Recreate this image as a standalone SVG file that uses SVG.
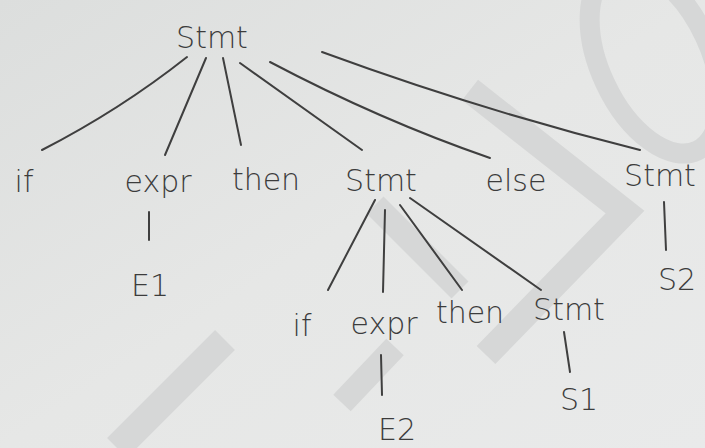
<svg xmlns="http://www.w3.org/2000/svg" width="705" height="448" viewBox="0 0 705 448">
<defs>
<linearGradient id="bg" x1="0" y1="0" x2="1" y2="1">
<stop offset="0" stop-color="#dcdedd"/>
<stop offset="0.5" stop-color="#e6e7e6"/>
<stop offset="1" stop-color="#e9eaea"/>
</linearGradient>
<style>
.t{font-family:"DejaVu Sans","Liberation Sans",sans-serif;font-size:30px;font-weight:300;fill:#3c3c3c;text-anchor:middle}
.e{fill:none;stroke:#3f3f3f;stroke-width:2;stroke-linecap:round}
.w{fill:none;stroke:#d6d7d7;stroke-linecap:butt}
</style>
</defs>
<rect width="705" height="448" fill="url(#bg)"/>
<g id="watermark">
<ellipse class="w" cx="655" cy="60" rx="55" ry="100" stroke-width="20" transform="rotate(-25 655 60)"/>
<path class="w" d="M470 90 L625 212 L486 355" stroke-width="26" stroke-linejoin="miter"/>
<path class="w" d="M375 205 L460 290" stroke-width="24"/>
<path class="w" d="M395 347 L342 403" stroke-width="24"/>
<path class="w" d="M117 448 L225 340" stroke-width="28"/>
</g>
<g id="connectors">
<path class="e" d="M187 57 Q120 110 42 150"/>
<path class="e" d="M206 58 L165 155"/>
<path class="e" d="M223 58 L241 145"/>
<path class="e" d="M240 63 L362 150"/>
<path class="e" d="M270 62 Q380 120 490 158"/>
<path class="e" d="M322 52 Q480 110 640 150"/>
<path class="e" d="M149 212 L149 240"/>
<path class="e" d="M664 202 L666 250"/>
<path class="e" d="M375 200 L328 290"/>
<path class="e" d="M385 210 L383 292"/>
<path class="e" d="M400 205 L462 290"/>
<path class="e" d="M410 198 Q470 240 541 290"/>
<path class="e" d="M381 355 L382 395"/>
<path class="e" d="M564 332 L570 372"/>
</g>
<g id="n-root"><text class="t" x="212" y="48">Stmt</text></g>
<g id="n-if1"><text class="t" x="24" y="192">if</text></g>
<g id="n-expr1"><text class="t" x="158" y="192">expr</text></g>
<g id="n-then1"><text class="t" x="266" y="190">then</text></g>
<g id="n-stmt1"><text class="t" x="381" y="191">Stmt</text></g>
<g id="n-else"><text class="t" x="516" y="191">else</text></g>
<g id="n-stmt2"><text class="t" x="660" y="186">Stmt</text></g>
<g id="n-e1"><text class="t" x="150" y="296">E1</text></g>
<g id="n-s2"><text class="t" x="677" y="290">S2</text></g>
<g id="n-if2"><text class="t" x="302" y="336">if</text></g>
<g id="n-expr2"><text class="t" x="384" y="334">expr</text></g>
<g id="n-then2"><text class="t" x="470" y="323">then</text></g>
<g id="n-stmt3"><text class="t" x="569" y="320">Stmt</text></g>
<g id="n-e2"><text class="t" x="397" y="440">E2</text></g>
<g id="n-s1"><text class="t" x="579" y="410">S1</text></g>
</svg>
